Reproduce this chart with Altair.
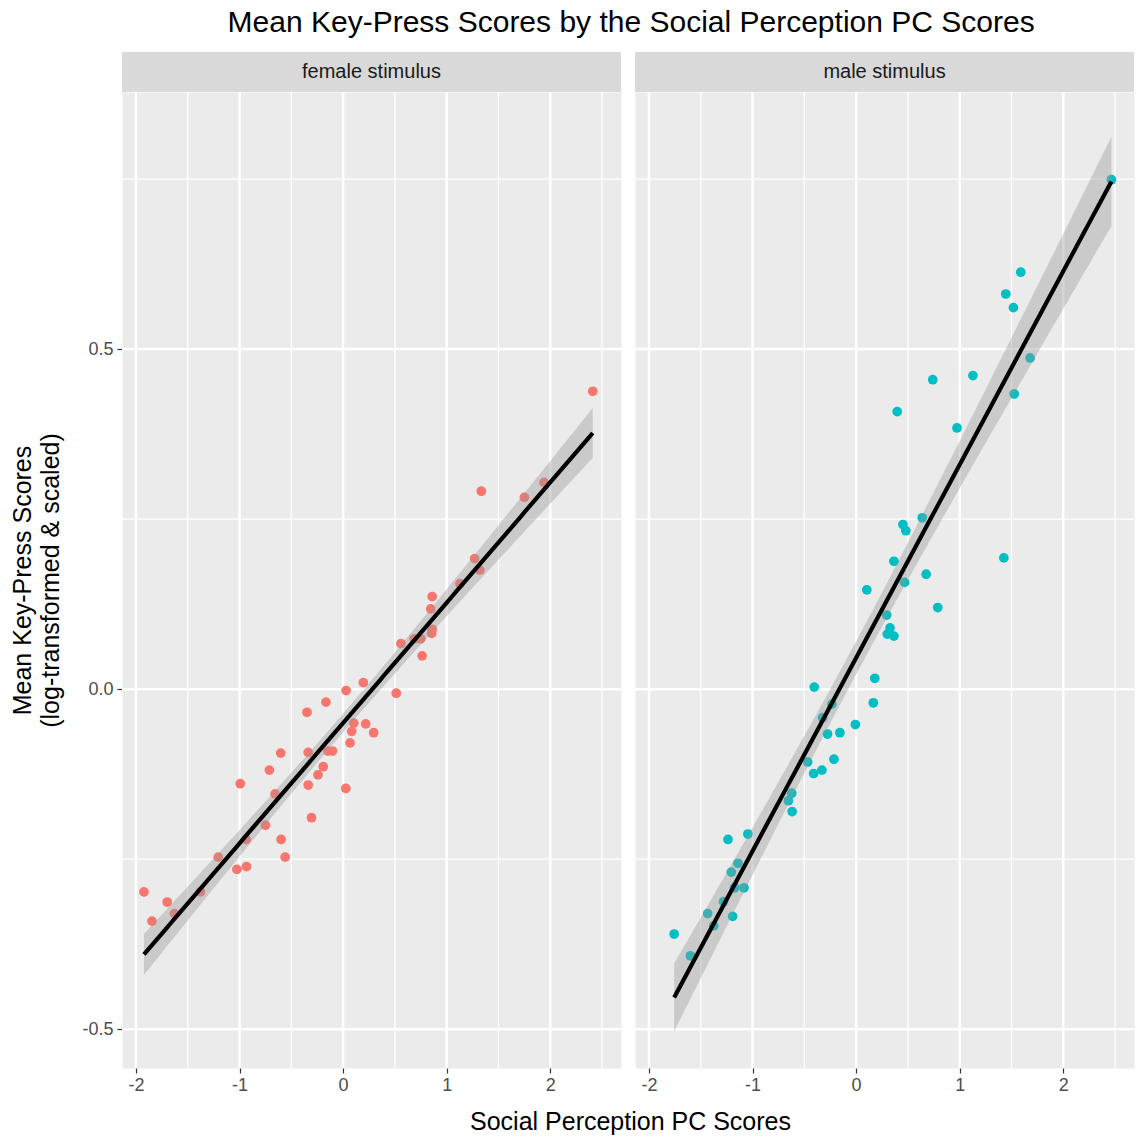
import altair as alt
import numpy as np
import pandas as pd

# Social perception PC score (x) and mean key-press score (y), per stimulus sex
female_x = [2.41, 1.334, 1.75, 1.94, 1.27, 1.32, 1.128, 0.86, 0.846, 0.86, 0.855,
            0.763, 0.75, 0.686, 0.558, 0.513, 0.295, 0.195, 0.029, -0.166, -0.349,
            0.103, 0.218, 0.083, 0.067, -0.603, -0.337, -0.147, -0.103, -0.192,
            -0.243, -0.712, -0.993, -0.337, 0.026, -0.657, -0.305, -0.75, -0.936,
            -0.599, -0.56, -1.205, -1.026, -0.933, -1.923, -1.699, -1.846, -1.628,
            -1.378]
female_y = [0.438, 0.291, 0.282, 0.304, 0.192, 0.175, 0.155, 0.136, 0.118, 0.088,
            0.082, 0.049, 0.074, 0.074, 0.067, -0.006, -0.064, 0.0096, -0.002,
            -0.019, -0.034, -0.050, -0.051, -0.062, -0.079, -0.094, -0.093, -0.091,
            -0.091, -0.114, -0.126, -0.119, -0.139, -0.141, -0.146, -0.154, -0.189,
            -0.200, -0.221, -0.221, -0.247, -0.247, -0.265, -0.261, -0.298, -0.313,
            -0.341, -0.330, -0.298]

male_x = [2.465, 1.59, 1.445, 1.519, 1.68, 1.128, 0.74, 1.526, 0.397, 0.974, 0.638,
          0.452, 0.48, 0.365, 1.426, 0.676, 0.468, 0.788, 0.295, 0.327, 0.301, 0.365,
          0.103, 0.18, 0.166, -0.404, -0.234, -0.324, -0.276, -0.157, -0.007, -0.468,
          -0.214, -0.41, -0.33, -0.622, -0.654, -0.618, -1.237, -1.045, -1.141,
          -1.205, -1.173, -1.083, -1.28, -1.433, -1.192, -1.375, -1.757, -1.6]
male_y = [0.749, 0.613, 0.581, 0.561, 0.487, 0.461, 0.455, 0.434, 0.408, 0.384, 0.252,
          0.242, 0.233, 0.188, 0.193, 0.169, 0.157, 0.120, 0.109, 0.090, 0.081, 0.078,
          0.146, 0.016, -0.020, 0.003, -0.022, -0.042, -0.066, -0.064, -0.052, -0.107,
          -0.103, -0.124, -0.119, -0.153, -0.164, -0.180, -0.221, -0.213, -0.256,
          -0.269, -0.292, -0.292, -0.3125, -0.330, -0.334, -0.348, -0.360, -0.392]

panel_labels = ["female stimulus", "male stimulus"]
point_colors = ["#F8766D", "#00BFC4"]

x_ticks = [-2, -1, 0, 1, 2]
x_minor = [-1.5, -0.5, 0.5, 1.5, 2.5]
y_ticks = [-0.5, 0.0, 0.5]
y_minor = [-0.25, 0.25, 0.75]
x_domain = [-2.135, 2.683]
y_domain = [-0.557, 0.878]

FONT = "Liberation Sans"
W, H, STRIP = 499, 976, 40


def t_quantile_975(dof):
    # Cornish-Fisher expansion of Student's t 97.5% quantile
    z = 1.959964
    return (z + (z**3 + z) / (4 * dof)
            + (5 * z**5 + 16 * z**3 + 3 * z) / (96 * dof**2))


def linear_fit(xs, ys, n=100):
    x = np.asarray(xs, dtype=float)
    y = np.asarray(ys, dtype=float)
    slope, intercept = np.polyfit(x, y, 1)
    resid = y - (intercept + slope * x)
    dof = len(x) - 2
    s = np.sqrt((resid ** 2).sum() / dof)
    grid = np.linspace(x.min(), x.max(), n)
    fit = intercept + slope * grid
    se = s * np.sqrt(1 / len(x) + (grid - x.mean()) ** 2 / ((x - x.mean()) ** 2).sum())
    t = t_quantile_975(dof)
    return pd.DataFrame({"x": grid, "fit": fit, "lo": fit - t * se, "hi": fit + t * se})


def hyphen_labels(fmt):
    return "replace(format(datum.value, '%s'), '\u2212', '-')" % fmt


def panel(xs, ys, label, color, first):
    pts = pd.DataFrame({"x": xs, "y": ys})
    band = linear_fit(xs, ys)

    xscale = alt.Scale(domain=x_domain, nice=False, zero=False)
    yscale = alt.Scale(domain=y_domain, nice=False, zero=False)

    xaxis = alt.Axis(
        values=x_ticks, grid=False, domain=False, labelExpr=hyphen_labels("d"),
        tickColor="#333333", tickSize=5, tickWidth=1.2,
        labelColor="#4D4D4D", labelFontSize=18, labelPadding=3, labelFont=FONT,
        title="Social Perception PC Scores" if first else None,
        titleFontSize=25, titleFont=FONT, titleFontWeight="normal", titleColor="black",
        titlePadding=15, titleX=508,
    )
    if first:
        yaxis = alt.Axis(
            values=y_ticks, grid=False, domain=False, labelExpr=hyphen_labels(".1f"),
            tickColor="#333333", tickSize=5, tickWidth=1.2,
            labelColor="#4D4D4D", labelFontSize=18, labelPadding=4, labelFont=FONT,
            title=["Mean Key-Press Scores", "(log-transformed & scaled)"],
            titleFontSize=25, titleFont=FONT, titleFontWeight="normal",
            titleColor="black", titleLineHeight=28, titlePadding=18,
        )
    else:
        yaxis = None

    def X(field):
        return alt.X(field, type="quantitative", scale=xscale, axis=xaxis)

    def Y(field):
        return alt.Y(field, type="quantitative", scale=yscale, axis=yaxis)

    grid_minor_x = alt.Chart(pd.DataFrame({"v": x_minor})).mark_rule(
        color="white", strokeWidth=1.25).encode(x=X("v"))
    grid_minor_y = alt.Chart(pd.DataFrame({"v": y_minor})).mark_rule(
        color="white", strokeWidth=1.25).encode(y=Y("v"))
    grid_major_x = alt.Chart(pd.DataFrame({"v": x_ticks})).mark_rule(
        color="white", strokeWidth=2.5).encode(x=X("v"))
    grid_major_y = alt.Chart(pd.DataFrame({"v": y_ticks})).mark_rule(
        color="white", strokeWidth=2.5).encode(y=Y("v"))

    points = alt.Chart(pts).mark_circle(size=95, opacity=1, color=color).encode(
        x=X("x"), y=Y("y"))
    ribbon = alt.Chart(band).mark_area(color="#999999", opacity=0.4).encode(
        x=X("x"), y=Y("lo"), y2="hi")
    line = alt.Chart(band).mark_line(color="black", strokeWidth=4.2).encode(
        x=X("x"), y=Y("fit"))

    strip_df = pd.DataFrame({"label": [label]})
    strip = alt.Chart(strip_df).mark_rect(color="#D9D9D9").encode(
        x=alt.value(0), x2=alt.value(W), y=alt.value(-STRIP), y2=alt.value(0))
    strip_text = alt.Chart(strip_df).mark_text(
        font=FONT, fontSize=20, color="#1A1A1A", baseline="middle", align="center"
    ).encode(x=alt.value(W / 2), y=alt.value(-STRIP / 2), text="label:N")

    return alt.layer(
        grid_minor_x, grid_minor_y, grid_major_x, grid_major_y,
        points, ribbon, line, strip, strip_text,
    ).properties(width=W, height=H)


left = panel(female_x, female_y, panel_labels[0], point_colors[0], True)
right = panel(male_x, male_y, panel_labels[1], point_colors[1], False)

chart = alt.hconcat(left, right, spacing=14, bounds="flush").properties(
    title=alt.TitleParams(
        "Mean Key-Press Scores by the Social Perception PC Scores",
        font=FONT, fontSize=30, fontWeight="normal", color="black",
        anchor="middle", offset=14, dx=58,
    ),
    padding={"left": 10, "top": 7, "right": 0, "bottom": 0},
).configure(background="white").configure_view(
    fill="#EBEBEB", stroke="transparent"
)

chart.save("out.html", embed_options={"renderer": "svg", "actions": False})
